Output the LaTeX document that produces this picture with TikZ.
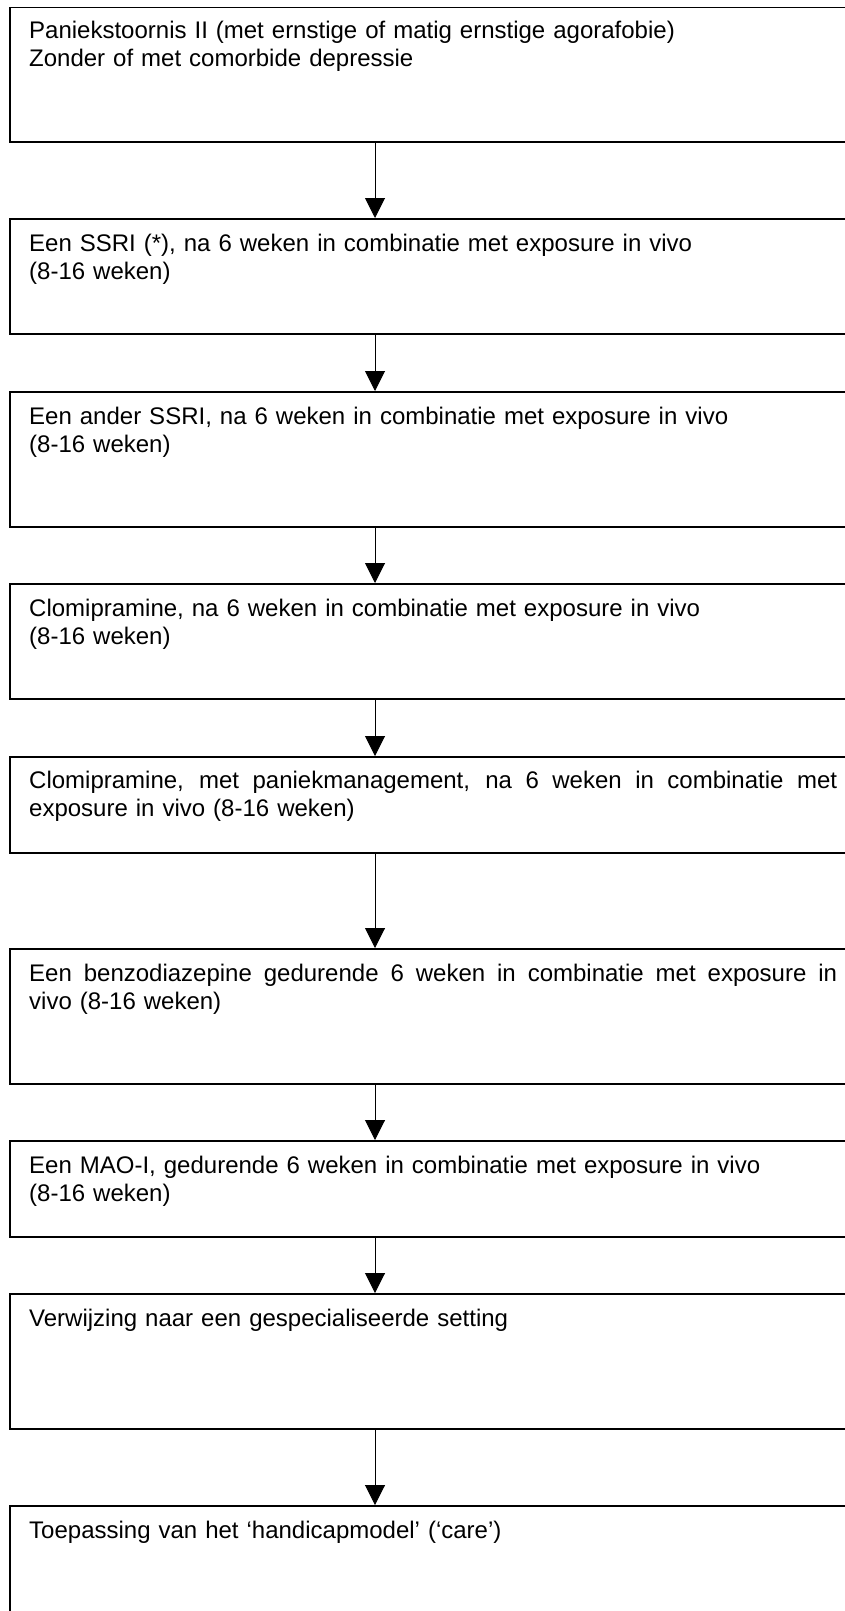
\documentclass[tikz,border=0pt]{standalone}
\usepackage{fontspec}
\setmainfont{Liberation Sans}
\usetikzlibrary{arrows.meta}
\tikzset{
  box/.style={draw=black, line width=1.5pt, fill=white, rectangle, anchor=north west, inner sep=0pt, minimum width=860pt},
  boxtext/.style={anchor=base west, inner sep=0pt, text width=808pt, align=left, font=\fontsize{24}{28}\selectfont},
  flow/.style={line width=1pt, -{Triangle[length=20pt, width=20pt]}, shorten >=0pt}
}
\newcommand{\fullline}[1]{\makebox[808pt][s]{\spaceskip=0pt\xspaceskip=0pt #1}}
\begin{document}
\begin{tikzpicture}[x=1pt, y=-1pt]
\useasboundingbox (0,0) rectangle (845,1611);
\fill[white] (0,0) rectangle (845,1611);
% boxes
\node[box, minimum height=134pt] (b1) at (9,7) {};
\node[box, minimum height=115pt] (b2) at (9,218) {};
\node[box, minimum height=135pt] (b3) at (9,391) {};
\node[box, minimum height=115pt] (b4) at (9,583) {};
\node[box, minimum height=96pt] (b5) at (9,756) {};
\node[box, minimum height=135pt] (b6) at (9,948) {};
\node[box, minimum height=96pt] (b7) at (9,1140) {};
\node[box, minimum height=135pt] (b8) at (9,1293) {};
\node[box, minimum height=140pt] (b9) at (9,1505) {};
% texts
\node[boxtext] (t1) at (29,39) {Paniekstoornis II (met ernstige of matig ernstige agorafobie)\\Zonder of met comorbide depressie};
\node[boxtext] (t2) at (29,251) {Een SSRI (*), na 6 weken in combinatie met exposure in vivo\\(8-16 weken)};
\node[boxtext] (t3) at (29,424) {Een ander SSRI, na 6 weken in combinatie met exposure in vivo\\(8-16 weken)};
\node[boxtext] (t4) at (29,616) {Clomipramine, na 6 weken in combinatie met exposure in vivo\\(8-16 weken)};
\node[boxtext] (t5) at (29,788) {\fullline{Clomipramine, met paniekmanagement, na 6 weken in combinatie met}\\exposure in vivo (8-16 weken)};
\node[boxtext] (t6) at (29,981) {\fullline{Een benzodiazepine gedurende 6 weken in combinatie met exposure in}\\vivo (8-16 weken)};
\node[boxtext] (t7) at (29,1173) {Een MAO-I, gedurende 6 weken in combinatie met exposure in vivo\\(8-16 weken)};
\node[boxtext] (t8) at (29,1326) {Verwijzing naar een gespecialiseerde setting};
\node[boxtext] (t9) at (29,1538) {Toepassing van het ‘handicapmodel’ (‘care’)};
% arrows
\foreach \a/\b in {b1/b2,b2/b3,b3/b4,b4/b5,b5/b6,b6/b7,b7/b8,b8/b9}{
  \draw[flow] (\a.south west -| 375,0) -- (\b.north west -| 375,0);
}
\end{tikzpicture}
\end{document}
